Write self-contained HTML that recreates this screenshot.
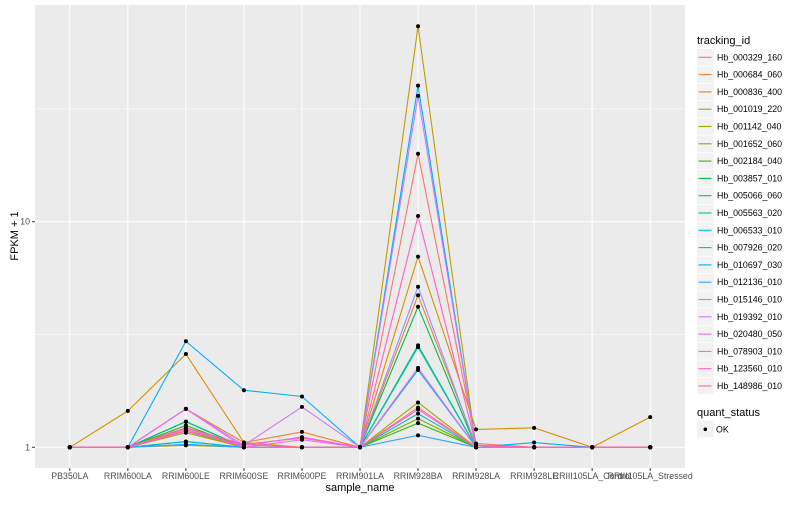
<!DOCTYPE html>
<html><head><meta charset="utf-8"><style>
body{margin:0;background:#fff;font-family:"Liberation Sans",sans-serif}
svg text{font-family:"Liberation Sans",sans-serif}
</style></head><body>
<svg id="c" width="800" height="500" xmlns="http://www.w3.org/2000/svg"></svg>
<script>
const categories=["PB350LA","RRIM600LA","RRIM600LE","RRIM600SE","RRIM600PE","RRIM901LA","RRIM928BA","RRIM928LA","RRIM928LE","RRIII105LA_Control","RRIII105LA_Stressed"];
const trackingIds=["Hb_000329_160","Hb_000684_060","Hb_000836_400","Hb_001019_220","Hb_001142_040","Hb_001652_060","Hb_002184_040","Hb_003857_010","Hb_005066_060","Hb_005563_020","Hb_006533_010","Hb_007926_020","Hb_010697_030","Hb_012136_010","Hb_015146_010","Hb_019392_010","Hb_020480_050","Hb_078903_010","Hb_123560_010","Hb_148986_010"];
const colors=["#F8766D","#EA8331","#D89000","#C09B00","#A3A500","#7CAE00","#39B600","#00BB4E","#00BF7D","#00C1A3","#00BFC4","#00BAE0","#00B0F6","#35A2FF","#9590FF","#C77CFF","#E76BF3","#FA62DB","#FF62BC","#FF6C91"];
const values=[
[1,1,1.22,1.03,1.1,1,20,1.04,1,1,1],
[1,1,1.48,1.05,1.17,1,4.72,1.02,1,1,1],
[1,1.45,2.59,1.05,1.0,1,7.0,1.2,1.22,1,1.36],
[1,1,1.02,1,1,1,73.5,1,1,1,1],
[1,1,1.16,1,1,1,1.58,1,1,1,1],
[1,1,1.18,1,1,1,1.34,1,1,1,1],
[1,1,1.25,1,1,1,1.28,1,1,1,1],
[1,1,1.30,1,1,1,4.2,1,1,1,1],
[1,1,1.30,1,1,1,2.83,1,1,1,1],
[1,1,1.06,1,1,1,2.78,1,1,1,1],
[1,1,1.03,1,1,1,1.41,1,1,1,1],
[1,1,1.06,1,1,1,2.2,1,1,1,1],
[1,1,2.95,1.79,1.68,1,40.1,1,1.05,1,1],
[1,1,1.03,1,1,1,1.13,1,1,1,1],
[1,1,1.22,1,1,1,5.15,1,1,1,1],
[1,1,1.48,1.02,1.51,1,36.1,1,1,1,1],
[1,1,1.48,1,1.08,1,2.25,1,1,1,1],
[1,1,1.18,1.02,1.11,1,1.47,1,1,1,1],
[1,1,1.22,1.03,1,1,10.6,1.02,1,1,1],
[1,1,1.2,1,1,1,1.5,1,1,1,1]];
const yTicks=[1,10];
const yMinor=[Math.sqrt(10),Math.sqrt(1000)];
const NS="http://www.w3.org/2000/svg",svg=document.getElementById("c");
function el(t,a,p){const e=document.createElementNS(NS,t);for(const k in a)e.setAttribute(k,a[k]);(p||svg).appendChild(e);return e;}
const L=35,R=685,T=5,B=468,d=(R-L)/(categories.length+0.2);
const x=i=>L+d*(0.6+i);
const y=v=>447.3-225.6*Math.log10(v);
let e=el("rect",{x:L,y:T,width:R-L,height:B-T,fill:"#EBEBEB"});

yMinor.forEach(v=>{el("line",{x1:L,x2:R,y1:y(v),y2:y(v),stroke:"#fff","stroke-width":0.5});});
yTicks.forEach(v=>{el("line",{x1:L,x2:R,y1:y(v),y2:y(v),stroke:"#fff","stroke-width":1.1});
el("line",{x1:L-3,x2:L,y1:y(v),y2:y(v),stroke:"#333","stroke-width":1});
let t=el("text",{x:L-5,y:y(v)+3,"text-anchor":"end","font-size":"8.8",fill:"#4D4D4D"});t.textContent=v;
});
categories.forEach((c,i)=>{el("line",{x1:x(i),x2:x(i),y1:T,y2:B,stroke:"#fff","stroke-width":1.1});
el("line",{x1:x(i),x2:x(i),y1:B,y2:B+3,stroke:"#333","stroke-width":1});
let t=el("text",{x:x(i),y:B+11,"text-anchor":"middle","font-size":"8.8",fill:"#4D4D4D"});t.textContent=c;
});
values.forEach((s,k)=>{let p=el("polyline",{points:s.map((v,i)=>x(i)+","+y(v)).join(" "),fill:"none",stroke:colors[k],"stroke-width":1.1});
});
values.forEach(s=>s.forEach((v,i)=>{let c=el("circle",{cx:x(i),cy:y(v),r:2,fill:"#000"});
}));
let t=el("text",{x:(L+R)/2,y:491,"text-anchor":"middle","font-size":"11",fill:"#000"});t.textContent="sample_name";

t=el("text",{x:0,y:0,"text-anchor":"middle","font-size":"11",fill:"#000",transform:"translate(18,236) rotate(-90)"});t.textContent="FPKM + 1";

t=el("text",{x:697,y:44,"font-size":"11",fill:"#000"});t.textContent="tracking_id";

trackingIds.forEach((id,k)=>{const cy=57.3+k*17.3;
let g=el("g",{});
el("rect",{x:697,y:cy-8.3,width:16.6,height:16.6,fill:"#F2F2F2"},g);
el("line",{x1:698.5,x2:711.5,y1:cy,y2:cy,stroke:colors[k],"stroke-width":1.1},g);
let tt=el("text",{x:717,y:cy+3,"font-size":"8.8",fill:"#000"},g);tt.textContent=id;});
t=el("text",{x:697,y:416,"font-size":"11",fill:"#000"});t.textContent="quant_status";

let g=el("g",{});
el("rect",{x:697,y:421,width:16.6,height:16.6,fill:"#F2F2F2"},g);
el("circle",{cx:705.3,cy:429.3,r:1.8,fill:"#000"},g);
let tt=el("text",{x:716,y:432.5,"font-size":"8.8",fill:"#000"},g);tt.textContent="OK";
</script>
</body></html>
